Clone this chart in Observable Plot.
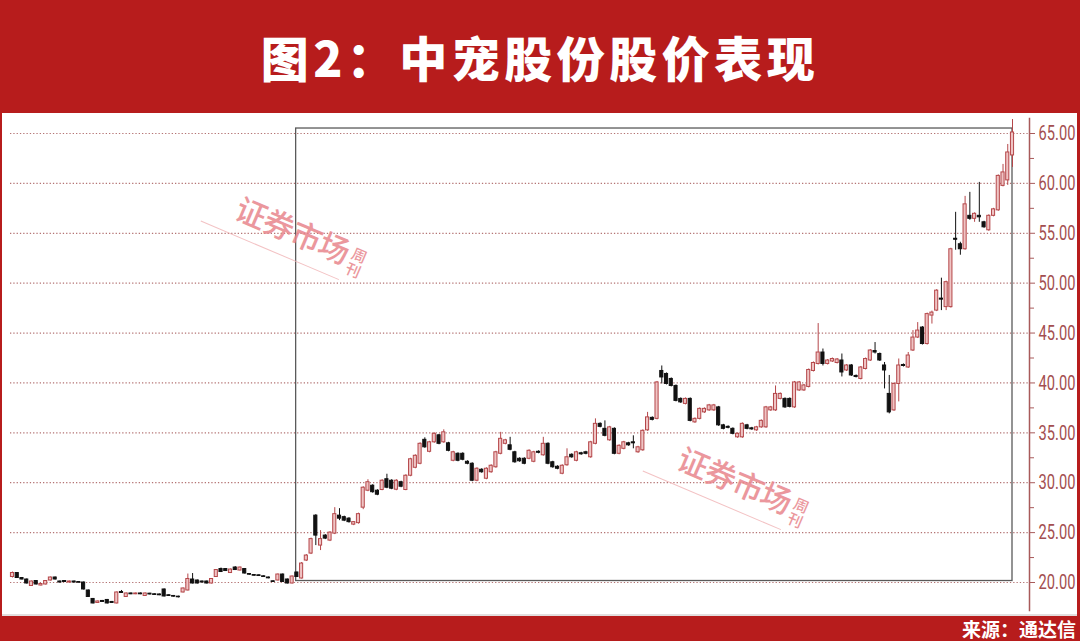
<!DOCTYPE html>
<html>
<head>
<meta charset="utf-8">
<script src="https://cdn.jsdelivr.net/npm/d3@7"></script>
<script src="https://cdn.jsdelivr.net/npm/@observablehq/plot@0.6"></script>
<style>
  html, body { margin: 0; padding: 0; }
  body { width: 1080px; height: 641px; background: #b71c1c; position: relative; overflow: hidden; font-family: "Noto Sans CJK SC", sans-serif; }
  #title { position: absolute; left: 0; top: 0; width: 1080px; height: 112px; display: flex; align-items: center; justify-content: center; color: #fff; font-size: 48px; font-weight: 900; letter-spacing: 4.5px; }
  #panel { position: absolute; left: 2px; top: 113px; width: 1075px; height: 501px; background: #fff; }
  #strip { position: absolute; left: 2px; top: 614px; width: 1075px; height: 2px; background: #e2dede; }
  #chart { position: absolute; left: 0; top: 113px; }
  #source { position: absolute; right: 4px; top: 616px; height: 25px; line-height: 25px; color: #fff; font-size: 19px; font-weight: 700; }
  .wm { position: absolute; transform: rotate(23deg); transform-origin: 0 0; color: #e8868c; opacity: 0.85; white-space: nowrap; pointer-events: none; }
  .wm .big { font-size: 31px; font-weight: 500; letter-spacing: -1px; line-height: 32px; display: inline-block; vertical-align: top; }
  .wm .small { display: inline-block; vertical-align: top; font-size: 15px; font-weight: 500; line-height: 16px; width: 16px; margin-left: 4px; margin-top: 6px; }
  .wm .line { position: absolute; left: -28px; top: 44px; width: 150px; height: 0; border-top: 1px solid #f2b8ba; }
</style>
</head>
<body>
<div id="title">图2：中宠股份股价表现</div>
<div id="panel"></div>
<div id="strip"></div>
<div id="chart"></div>
<div class="wm" style="left:244px;top:191px"><span class="big">证券市场</span><span class="small">周<br>刊</span><div class="line"></div></div>
<div class="wm" style="left:686px;top:441px"><span class="big">证券市场</span><span class="small">周<br>刊</span><div class="line"></div></div>
<div id="source">来源：通达信</div>
<script>
// Daily candles (open, close, high, low)
const opens = [
20.55,20.95,20.45,20.3,19.65,20.15,19.7,19.8,20.2,20.5,
20.1,20.15,20.0,20.1,20.05,20.0,19.2,18.35,17.95,18.15,
18.25,18.05,17.9,19.05,18.55,18.9,18.82,18.9,18.65,18.88,
18.82,18.8,19.3,18.72,18.65,18.58,19.0,19.2,20.3,20.2,
20.1,20.1,19.9,20.55,21.35,21.35,20.95,21.5,21.2,21.35,
20.85,20.75,20.72,20.62,20.5,20.12,20.2,20.8,20.3,19.9,
21.0,20.4,22.2,22.9,26.7,23.7,24.7,24.2,24.9,26.7,
26.55,26.4,25.8,25.95,27.5,29.2,29.7,29.2,29.27,30.35,
30.2,29.3,30.05,29.27,30.7,31.5,31.9,34.3,33.1,34.05,
34.75,34.05,33.95,32.2,32.9,32.9,32.1,31.9,30.2,31.3,
30.4,31.05,31.55,32.9,33.9,33.75,33.05,32.4,32.4,32.4,
32.1,33.1,32.75,33.9,32.05,31.6,30.9,31.75,32.8,32.2,
32.95,33.05,32.55,33.9,35.9,35.4,34.25,35.4,32.9,33.4,
33.95,34.05,33.05,33.25,35.25,36.5,36.4,41.2,40.9,40.4,
39.7,38.4,37.9,38.4,36.05,36.4,37.05,37.25,37.25,37.55,
35.75,35.6,35.4,34.55,34.55,35.75,35.45,35.25,35.55,35.55,
37.25,37.25,38.4,38.4,38.4,37.55,39.25,39.25,39.6,41.2,
41.9,43.05,41.9,42.15,42.0,42.25,41.25,41.75,40.7,40.4,
41.4,42.25,43.2,42.9,41.75,38.9,37.25,39.9,41.8,41.55,
43.25,44.55,45.55,43.9,46.75,47.25,48.45,47.6,47.6,54.45,
53.9,53.4,56.75,56.45,56.75,56.1,55.3,56.75,57.3,59.75,
60.3,62.8];
const closes = [
20.95,20.45,20.3,19.9,20.1,19.8,19.85,20.15,20.5,20.3,
20.0,20.05,20.1,20.0,19.98,19.3,18.55,17.9,18.1,18.05,
17.9,17.95,19.0,18.95,18.9,18.82,18.9,18.82,18.9,18.8,
18.75,18.72,18.6,18.65,18.58,18.52,19.4,20.35,19.9,19.9,
20.0,19.9,20.35,21.25,21.05,21.15,21.3,21.25,21.5,20.9,
20.78,20.68,20.65,20.55,20.42,20.05,20.8,20.05,19.9,20.6,
20.55,21.9,22.7,24.35,24.7,24.35,24.4,25.0,26.85,26.4,
26.2,26.05,26.05,26.85,29.5,30.05,29.05,28.8,30.2,29.5,
29.4,30.2,29.6,30.7,32.35,32.7,33.9,33.55,34.05,34.9,
33.9,35.05,33.2,33.05,32.2,32.3,31.9,30.2,31.4,31.05,
31.4,31.7,33.05,34.4,34.25,33.3,32.05,32.15,31.9,33.2,
33.05,33.0,33.9,31.9,31.55,31.4,31.7,32.55,32.55,33.05,
32.85,32.9,34.05,35.9,35.6,34.7,35.55,32.9,33.7,34.05,
33.75,33.95,33.55,35.2,36.55,36.3,40.05,40.55,39.9,39.7,
38.2,38.05,38.4,36.2,36.4,37.4,37.4,37.75,37.75,35.75,
35.4,35.5,34.9,34.9,35.9,35.4,35.35,35.55,36.2,37.55,
37.55,38.9,38.9,37.55,37.6,40.05,40.05,39.75,41.3,42.0,
43.05,41.9,42.25,42.4,42.35,41.05,41.75,40.75,40.6,41.55,
42.4,43.25,43.05,42.25,41.25,37.05,39.9,41.75,41.7,42.75,
44.55,45.25,43.9,46.9,47.05,49.25,48.35,50.1,53.4,54.35,
53.4,57.9,56.45,56.95,56.6,55.6,56.75,57.4,60.75,61.1,
63.1,65.1];
const highs = [
21.05,21.0,20.5,20.35,20.15,20.2,19.9,20.2,20.55,20.55,
20.15,20.2,20.15,20.15,20.1,20.05,19.25,18.4,18.15,18.2,
18.3,18.1,19.05,19.2,18.95,18.95,18.95,18.95,18.95,18.92,
18.87,18.85,19.35,18.78,18.7,18.63,19.45,20.85,20.9,20.25,
20.15,20.15,20.4,21.3,21.45,21.4,21.35,21.6,21.55,21.4,
20.9,20.8,20.77,20.67,20.55,20.17,20.85,20.85,20.35,20.65,
21.05,22.0,22.8,24.45,26.8,25.2,24.8,25.1,27.5,27.4,
26.65,26.5,26.1,26.95,29.6,30.3,29.8,29.3,30.3,30.85,
30.3,30.3,30.15,30.8,32.45,32.8,34.0,34.5,34.15,35.0,
34.85,35.3,34.05,33.15,33.0,33.0,32.2,32.0,31.5,31.4,
31.5,31.8,33.15,35.05,34.35,34.55,33.15,32.5,32.5,33.3,
33.15,33.2,34.55,34.0,32.15,31.7,31.8,33.4,32.9,33.15,
33.05,33.15,34.15,36.4,36.0,36.2,35.65,35.5,33.8,34.15,
34.05,34.7,33.65,35.3,37.05,36.6,40.15,41.7,41.0,40.5,
39.8,38.5,38.5,38.5,36.5,37.5,37.5,37.85,37.85,37.65,
35.85,35.7,35.5,35.0,36.0,35.85,35.55,35.65,36.3,37.65,
37.65,39.7,39.0,38.5,38.5,40.15,40.15,39.85,41.4,42.1,
45.95,43.4,42.35,42.5,42.45,42.9,41.85,41.85,40.8,41.65,
42.5,43.35,44.05,43.0,42.05,40.75,40.0,42.4,41.9,43.05,
45.25,46.05,45.65,47.0,47.2,49.35,50.5,50.2,53.5,57.1,
54.1,58.7,59.1,57.05,60.1,56.2,56.85,57.5,60.85,61.9,
63.9,66.4];
const lows = [
20.45,20.4,20.25,19.85,19.6,19.75,19.65,19.75,20.15,20.25,
19.95,20.0,19.95,19.95,19.95,19.25,18.5,17.85,17.9,18.0,
17.85,17.9,17.85,18.9,18.5,18.78,18.78,18.78,18.6,18.75,
18.7,18.68,18.55,18.6,18.53,18.45,18.95,19.15,19.85,19.85,
19.95,19.85,19.85,20.5,21.0,21.1,20.9,21.2,21.15,20.85,
20.73,20.63,20.6,20.5,20.37,20.0,20.15,20.0,19.85,19.85,
20.5,20.35,22.1,22.8,23.7,23.2,24.3,24.1,24.8,26.2,
26.1,25.95,25.7,25.85,27.3,29.1,28.95,28.7,29.2,29.4,
29.3,29.2,29.5,29.2,30.6,31.4,31.8,33.45,33.0,33.95,
33.8,33.95,33.1,32.1,32.1,32.2,31.8,30.1,30.1,30.95,
30.3,30.95,31.45,32.8,33.8,33.2,31.95,32.05,31.8,32.3,
32.0,32.9,32.65,31.8,31.45,31.3,30.8,31.65,32.45,32.1,
32.75,32.8,32.45,33.8,35.5,34.6,34.15,32.8,32.8,33.3,
33.65,33.4,32.95,33.15,35.15,36.2,36.3,39.9,39.8,39.6,
38.1,37.95,37.8,36.1,35.95,36.3,36.95,37.15,37.15,35.65,
35.3,35.4,34.8,34.45,34.45,35.3,35.25,35.15,35.45,35.45,
37.15,37.15,38.3,37.45,37.5,37.45,39.15,39.15,39.5,41.1,
41.8,41.7,41.8,42.05,41.9,40.6,41.15,40.65,40.5,40.3,
41.3,42.15,42.9,42.15,39.4,36.9,37.15,38.1,41.6,41.45,
43.15,44.45,43.8,43.8,45.9,47.15,47.25,47.25,47.5,53.3,
52.8,53.3,56.3,56.1,56.1,55.5,55.2,56.65,57.2,59.65,
59.8,61.6];

// Price-axis tick labels
const majorTicks = [20, 25, 30, 35, 40, 45, 50, 55, 60, 65];
const minorTicks = [22.5, 27.5, 32.5, 37.5, 42.5, 47.5, 52.5, 57.5, 62.5];
// Highlighted period (candle index range, price range)
const highlightIndex = [59.85, 211];
const highlightPrice = [20.15, 65.5];

const N = Math.min(opens.length, closes.length, highs.length, lows.length);
const candles = d3.range(N).map(i => ({i, o: opens[i], c: closes[i], h: highs[i], l: lows[i]}));
const isUp = d => d.c >= d.o;
const upStroke = "#b5474a", upFill = "#efc4c4", downColor = "#111";

const chart = Plot.plot({
  width: 1080,
  height: 500,
  marginLeft: 10,
  marginRight: 51,
  marginTop: 5,
  marginBottom: 3,
  style: {background: "transparent", overflow: "visible"},
  x: {axis: null, domain: [0, N - 1], range: [12, 1012]},
  y: {domain: [20, 65], range: [469, 20]},
  color: {type: "identity"},
  marks: [
    Plot.gridY(majorTicks, {stroke: "#b47474", strokeOpacity: 1, strokeDasharray: "1.3,2", strokeWidth: 1.2}),
    Plot.rect([{x1: highlightIndex[0], x2: highlightIndex[1], y1: highlightPrice[0], y2: highlightPrice[1]}],
      {x1: "x1", x2: "x2", y1: "y1", y2: "y2", fill: "none", stroke: "#5a5a5a", strokeWidth: 1.3}),
    Plot.ruleX(candles, {x: "i", y1: "l", y2: "h", stroke: d => isUp(d) ? upStroke : downColor, strokeWidth: 1}),
    Plot.rect(candles, {
      x1: d => d.i - 0.33, x2: d => d.i + 0.33,
      y1: d => Math.min(d.o, d.c), y2: d => Math.max(d.o, d.c),
      fill: d => isUp(d) ? upFill : downColor,
      stroke: d => isUp(d) ? upStroke : downColor,
      strokeWidth: 1
    }),
    Plot.frame({anchor: "right", stroke: "#a85a5a", strokeWidth: 1.5}),
    Plot.axisY(majorTicks, {anchor: "right", tickSize: 5, tickPadding: 4, stroke: "#a85a5a",
      color: "#a34e50", fontSize: 21, tickFormat: d => d.toFixed(2),
      fontFamily: "Roboto, 'Liberation Sans', sans-serif"}),
    Plot.axisY(minorTicks, {anchor: "right", tickSize: 4, stroke: "#a85a5a", tickFormat: () => ""})
  ]
});
// condense the price labels horizontally (narrow font look)
d3.select(chart).selectAll('g[aria-label="y-axis tick label"] text').each(function() {
  const t = d3.select(this);
  const tr = t.attr("transform");
  if (tr) t.attr("transform", tr + " scale(0.7,1)");
  else {
    const x = +(t.attr("x") || 0);
    t.attr("transform", `translate(${x},0) scale(0.7,1) translate(${-x},0)`);
  }
});
document.getElementById("chart").appendChild(chart);
</script>
</body>
</html>
